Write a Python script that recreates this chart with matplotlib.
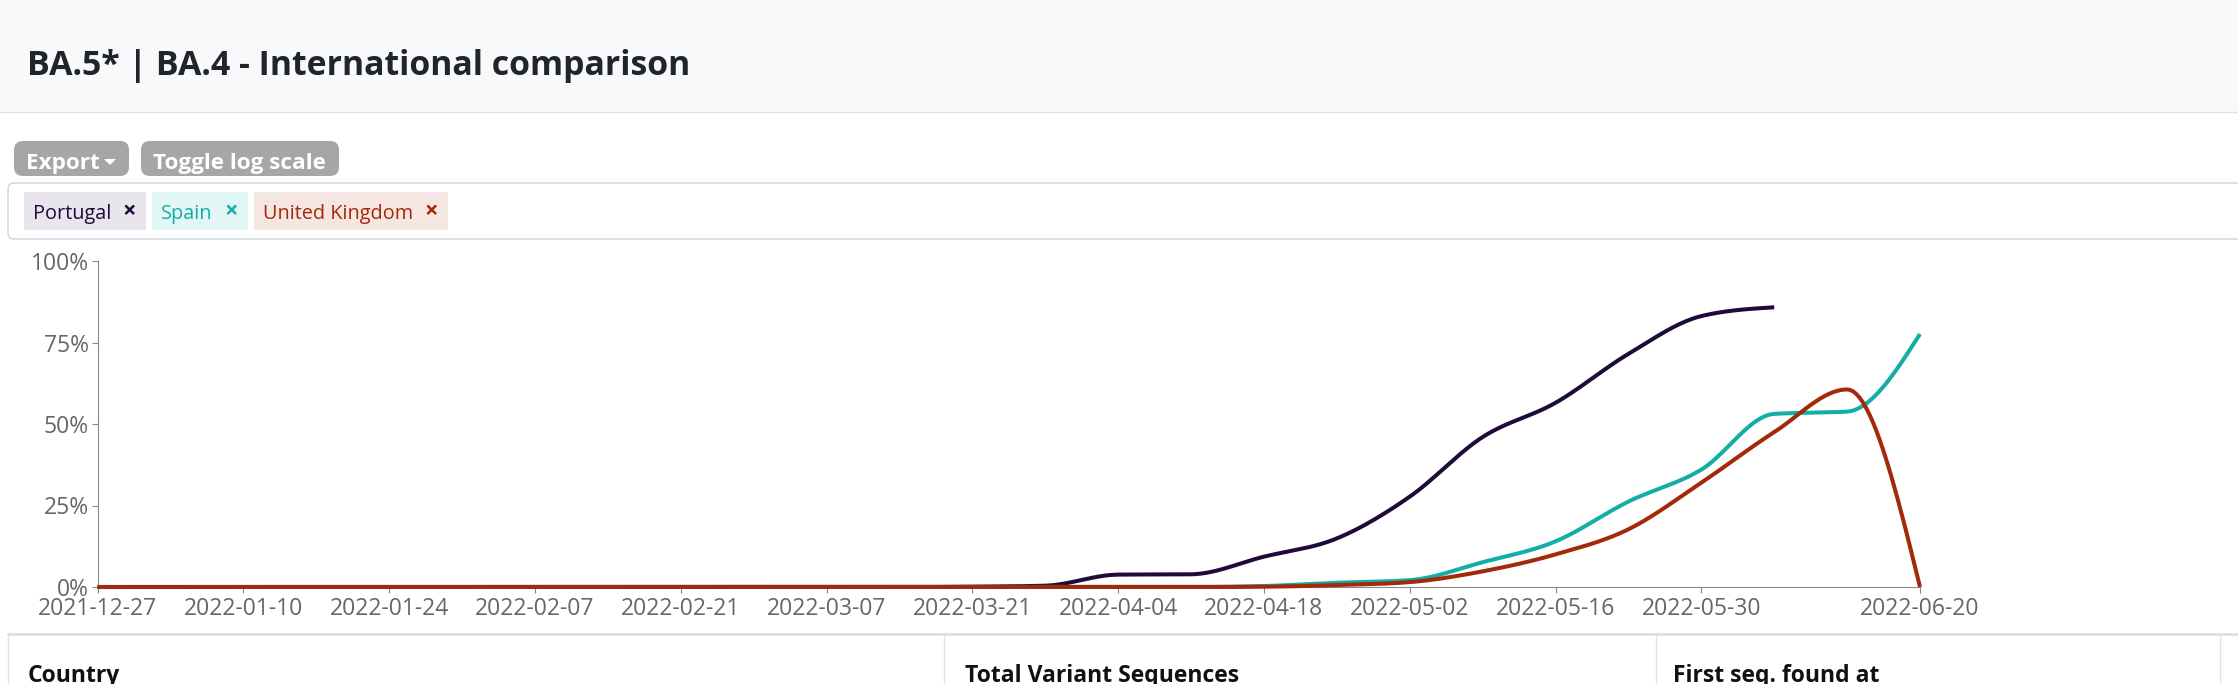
import numpy as np
import pandas as pd
import matplotlib
matplotlib.use("Agg")
import matplotlib.pyplot as plt
import matplotlib.dates as mdates
from matplotlib.patches import FancyBboxPatch, Rectangle, Polygon

# weekly share of BA.5* | BA.4 (%), from 2021-12-27
weeks = pd.date_range("2021-12-27", "2022-06-20", freq="7D")
portugal = [0] * 12 + [0.1, 0.4, 3.8, 3.9, 9.3, 14.9, 27.7, 46.0, 56.5, 71.5, 83.1, 85.8]
spain = [0] * 16 + [0.3, 1.3, 2.1, 7.6, 14.0, 26.2, 36.0, 53.1, 53.8, 77.6]
uk = [0] * 16 + [0.1, 0.6, 1.5, 4.8, 10.0, 17.7, 32.0, 47.5, 60.6, 0.0]

countries = ["Portugal", "Spain", "United Kingdom"]
colors = ["#1f0a3a", "#13aea6", "#a3290a"]
chip_bg = ["#e8e5ed", "#e2f6f5", "#f6e6e2"]

tick_dates = list(pd.date_range("2021-12-27", "2022-05-30", freq="14D")) + [pd.Timestamp("2022-06-20")]
y_ticks = [0, 25, 50, 75, 100]
y_labels = ["0%", "25%", "50%", "75%", "100%"]

W, H = 2238, 684
plt.rcParams["font.family"] = ["Open Sans", "DejaVu Sans"]


def monotone_x(x, y, n=24):
    # same smoothing as d3.curveMonotoneX
    x = np.asarray(x, float)
    y = np.asarray(y, float)
    h = np.diff(x)
    s = np.diff(y) / h
    t = np.zeros_like(y)
    for i in range(1, len(x) - 1):
        p = (s[i - 1] * h[i] + s[i] * h[i - 1]) / (h[i - 1] + h[i])
        sgn = (1 if s[i - 1] >= 0 else -1) + (1 if s[i] >= 0 else -1)
        t[i] = sgn * min(abs(s[i - 1]), abs(s[i]), 0.5 * abs(p))
    t[0] = (3 * s[0] - t[1]) / 2
    t[-1] = (3 * s[-1] - t[-2]) / 2
    u = np.linspace(0, 1, n)[:, None]
    dx = h / 3
    p0x, p0y = x[:-1], y[:-1]
    p1x, p1y = x[:-1] + dx, y[:-1] + dx * t[:-1]
    p2x, p2y = x[1:] - dx, y[1:] - dx * t[1:]
    p3x, p3y = x[1:], y[1:]
    b = [(1 - u) ** 3, 3 * (1 - u) ** 2 * u, 3 * (1 - u) * u ** 2, u ** 3]
    bx = b[0] * p0x + b[1] * p1x + b[2] * p2x + b[3] * p3x
    by = b[0] * p0y + b[1] * p1y + b[2] * p2y + b[3] * p3y
    return bx.T.ravel(), by.T.ravel()


fig = plt.figure(figsize=(W / 100, H / 100), dpi=100)

# page background drawn in pixel coordinates
bg = fig.add_axes([0, 0, 1, 1])
bg.set_xlim(0, W)
bg.set_ylim(H, 0)
bg.axis("off")

bg.add_patch(Rectangle((0, 0), W, 112, fc="#f8f9fa", ec="none"))
bg.plot([0, W], [112, 112], color="#dee2e6", lw=1)
bg.text(27, 75, "BA.5* | BA.4 - International comparison", fontsize=24.4,
        fontweight="bold", color="#212529", va="baseline")

# buttons
for x0, w, label in [(14, 115, "Export"), (141, 198, "Toggle log scale")]:
    bg.add_patch(FancyBboxPatch((x0, 141), w, 35, boxstyle="round,pad=0,rounding_size=9",
                                fc="#a6a6a6", ec="none"))
    bg.text(x0 + 12, 169, label, fontsize=16.2, fontweight="bold", color="white", va="baseline")
bg.add_patch(Polygon([[104, 159], [116, 159], [110, 165]], closed=True, fc="white", ec="none"))

# country filter box
bg.add_patch(FancyBboxPatch((8, 183), W + 20, 56, boxstyle="round,pad=0,rounding_size=6",
                            fc="white", ec="#ced4da", lw=1))
chip_x = [(24, 122), (152, 96), (254, 194)]
for (x0, w), name, col, fc in zip(chip_x, countries, colors, chip_bg):
    bg.add_patch(Rectangle((x0, 192), w, 38, fc=fc, ec="none"))
    bg.text(x0 + 9, 219, name, fontsize=14.3, color=col, va="baseline")
    bg.text(x0 + w - 16.5, 218, "\u00d7", fontsize=17, fontweight="bold", color=col,
            va="baseline", ha="center")

# table header below the chart
bg.plot([8, W], [634, 634], color="#dedede", lw=2)
bg.plot([8, 8], [634, H], color="#e3e3e3", lw=1)
for xs in [943.5, 1656, 2220]:
    bg.plot([xs, xs], [634, H], color="#e3e3e3", lw=1)
for xs, head in [(28, "Country"), (965, "Total Variant Sequences"), (1673, "First seq. found at")]:
    bg.text(xs, 682, head, fontsize=16.5, fontweight="bold", color="#111111", va="baseline")

# chart
ax = fig.add_axes([97.5 / W, (H - 587) / H, (1920 - 97.5) / W, (587 - 261) / H])
ax.patch.set_alpha(0)

xnum = mdates.date2num(weeks)
for vals, col in zip([portugal, spain, uk], colors):
    cx, cy = monotone_x(xnum[:len(vals)], vals)
    ax.plot(cx, cy, color=col, lw=2.9, solid_capstyle="butt", clip_on=False, zorder=3)

ax.set_xlim(xnum[0], xnum[-1])
ax.set_ylim(0, 100)
ax.set_xticks(mdates.date2num(tick_dates))
ax.set_xticklabels([d.strftime("%Y-%m-%d") for d in tick_dates])
ax.set_yticks(y_ticks)
ax.set_yticklabels(y_labels)

for side in ["top", "right"]:
    ax.spines[side].set_visible(False)
for side in ["left", "bottom"]:
    ax.spines[side].set_color("#888888")
    ax.spines[side].set_linewidth(0.8)
ax.tick_params(length=4.3, width=0.8, color="#888888", labelcolor="#666666",
               labelsize=16.5, pad=2)
ax.tick_params(axis="x", pad=2.8)

fig.savefig("out.png", dpi=100)
